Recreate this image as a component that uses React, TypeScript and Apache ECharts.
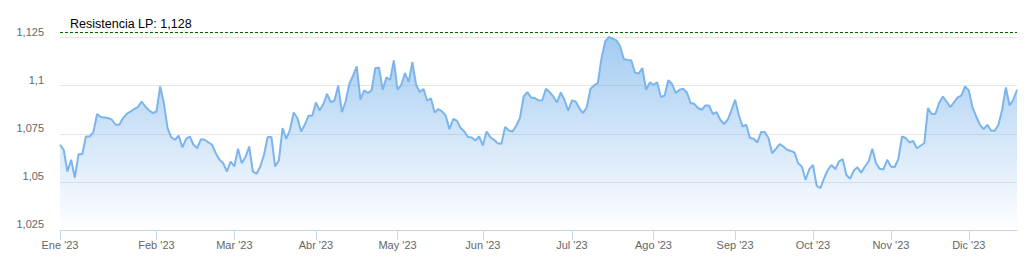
import React, { useEffect, useRef } from "react";
import * as echarts from "echarts";

const monthLabels = ["Ene '23", "Feb '23", "Mar '23", "Abr '23", "May '23", "Jun '23", "Jul '23", "Ago '23", "Sep '23", "Oct '23", "Nov '23", "Dic '23"];

const ene = [1.0693, 1.0667, 1.0554, 1.0615, 1.0522, 1.0644, 1.0644, 1.0736, 1.0736, 1.0759, 1.0853, 1.0837, 1.0835, 1.0832, 1.0823, 1.0797, 1.0797, 1.0832, 1.0854, 1.0866, 1.0879, 1.0889, 1.0918, 1.0892, 1.0872, 1.0858];
const feb = [1.0866, 1.0996, 1.0910, 1.0780, 1.0731, 1.0719, 1.0741, 1.0679, 1.0724, 1.0736, 1.0693, 1.0675, 1.0722, 1.0719, 1.0705, 1.0693, 1.0649, 1.0615, 1.0597, 1.0554, 1.0606];
const mar = [1.0580, 1.0672, 1.0597, 1.0629, 1.0684, 1.0554, 1.0542, 1.0580, 1.0641, 1.0733, 1.0733, 1.0580, 1.0611, 1.0780, 1.0724, 1.0771, 1.0861, 1.0832, 1.0762, 1.0797, 1.0844, 1.0844];
const abr = [1.0913, 1.0871, 1.0905, 1.0958, 1.0915, 1.0923, 1.1000, 1.0863, 1.0918, 1.1009, 1.1052, 1.1101, 1.0927, 1.0976, 1.0962, 1.0976, 1.1092, 1.1094, 1.0979, 1.1043, 1.1031, 1.1132];
const may = [1.0979, 1.1005, 1.1066, 1.1019, 1.1123, 1.1005, 1.0967, 1.0983, 1.0922, 1.0935, 1.0861, 1.0879, 1.0866, 1.0844, 1.0774, 1.0827, 1.0818, 1.0780, 1.0762, 1.0733, 1.0731, 1.0715, 1.0736];
const jun = [1.0689, 1.0762, 1.0733, 1.0719, 1.0701, 1.0698, 1.0785, 1.0767, 1.0762, 1.0792, 1.0832, 1.0944, 1.0967, 1.0939, 1.0936, 1.0924, 1.0923, 1.0984, 1.0967, 1.0944, 1.0913, 1.0965, 1.0927, 1.0870];
const jul = [1.0923, 1.0918, 1.0884, 1.0858, 1.0887, 1.0983, 1.1002, 1.1014, 1.1144, 1.1231, 1.1254, 1.1245, 1.1236, 1.1205, 1.1139, 1.1134, 1.1132, 1.1069, 1.1063, 1.1092, 1.0979, 1.1017];
const ago = [1.1005, 1.1017, 1.0941, 1.0949, 1.1028, 1.1009, 1.0962, 1.0979, 1.0984, 1.0965, 1.0910, 1.0906, 1.0884, 1.0875, 1.0897, 1.0897, 1.0853, 1.0863, 1.0823, 1.0801, 1.0823, 1.0871];
const sep = [1.0927, 1.0849, 1.0788, 1.0797, 1.0728, 1.0724, 1.0705, 1.0759, 1.0759, 1.0728, 1.0649, 1.0672, 1.0696, 1.0684, 1.0667, 1.0661, 1.0653, 1.0597, 1.0580, 1.0510, 1.0566];
const oct = [1.0588, 1.0479, 1.0467, 1.0519, 1.0562, 1.0588, 1.0566, 1.0606, 1.0618, 1.0536, 1.0516, 1.0559, 1.0576, 1.0547, 1.0580, 1.0606, 1.0672, 1.0597, 1.0568, 1.0565, 1.0615];
const nov = [1.0580, 1.0576, 1.0618, 1.0736, 1.0728, 1.0705, 1.0713, 1.0675, 1.0688, 1.0701, 1.0884, 1.0853, 1.0854, 1.0910, 1.0944, 1.0918, 1.0889, 1.0913, 1.0939, 1.0949, 1.0996];
const dic = [1.0976, 1.0888, 1.0840, 1.0797, 1.0774, 1.0797, 1.0767, 1.0766, 1.0797, 1.0875, 1.0991, 1.0897, 1.0927, 1.0979];

const monthSeries = [ene, feb, mar, abr, may, jun, jul, ago, sep, oct, nov, dic];

const resistance = 1.128;
const yMin = 1.025;
const yMax = 1.13;
const yStep = 0.025;

const FONT = "'Liberation Sans', Arial, sans-serif";

export default function App() {
  const ref = useRef<HTMLDivElement>(null);
  useEffect(() => {
    document.body.style.margin = "0";
    const chart = echarts.init(ref.current!, null, { renderer: "svg" });
    const cats: string[] = [];
    const vals: number[] = [];
    const starts = new Set<number>();
    monthSeries.forEach((arr, m) => {
      starts.add(cats.length);
      arr.forEach((v, k) => {
        cats.push(`${monthLabels[m]}|${k}`);
        vals.push(v);
      });
    });
    const fmt = (v: number) => String(Number(v.toFixed(4))).replace(".", ",");
    const isStart = (i: number) => starts.has(i);

    chart.setOption({
      animation: false,
      grid: { left: 60, right: 9, top: 28, bottom: 33, containLabel: false },
      xAxis: {
        type: "category",
        data: cats,
        boundaryGap: false,
        axisLine: { show: true, lineStyle: { color: "#ccd6eb", width: 1 } },
        axisTick: { show: true, length: 10, interval: isStart, lineStyle: { color: "#ccd6eb" } },
        axisLabel: {
          interval: isStart,
          formatter: (v: string) => v.split("|")[0],
          color: "#666666",
          fontSize: 11,
          fontFamily: FONT,
          margin: 9,
        },
        splitLine: { show: false },
      },
      yAxis: {
        type: "value",
        min: yMin,
        max: yMax,
        interval: yStep,
        axisLine: { show: false },
        axisTick: { show: false },
        splitLine: { show: true, showMaxLine: false, lineStyle: { color: "#e6e6e6", width: 1 } },
        axisLabel: {
          formatter: (v: number) => fmt(v),
          color: "#666666",
          fontSize: 11,
          fontFamily: FONT,
          margin: 16,
          showMaxLabel: false,
          verticalAlign: "bottom",
          lineHeight: 12,
        },
      },
      series: [
        {
          type: "line",
          data: vals,
          showSymbol: false,
          symbol: "none",
          lineStyle: { color: "#7cb5ec", width: 2 },
          itemStyle: { color: "#7cb5ec" },
          areaStyle: {
            color: new echarts.graphic.LinearGradient(0, 0, 0, 1, [
              { offset: 0, color: "rgba(124,181,236,1)" },
              { offset: 1, color: "rgba(124,181,236,0)" },
            ]),
          },
          markLine: {
            silent: true,
            precision: 4,
            symbol: ["none", "none"],
            lineStyle: { color: "#006400", type: [3, 2], width: 1 },
            label: {
              show: true,
              position: "insideStartTop",
              distance: [10, 1.5],
              formatter: () => `Resistencia LP: ${fmt(resistance)}`,
              color: "#000000",
              fontSize: 12.5,
              fontFamily: FONT,
              lineHeight: 12,
            },
            data: [{ yAxis: resistance }],
          },
        },
      ],
    });
    return () => chart.dispose();
  }, []);
  return <div ref={ref} style={{ width: 1026, height: 263 }} />;
}
